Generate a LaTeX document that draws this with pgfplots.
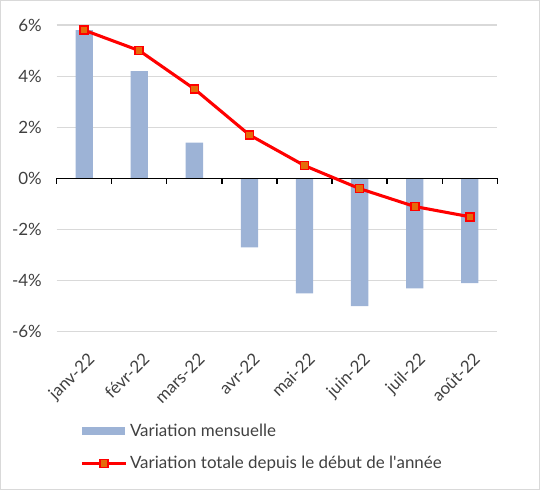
\documentclass[border=0pt]{standalone}
\usepackage{pgfplots}
\pgfplotsset{compat=1.18}
\usepackage{fontspec}
\setmainfont{Lato}
\definecolor{barblue}{HTML}{9DB3D6}
\definecolor{txtgray}{HTML}{404040}
\definecolor{gridgray}{HTML}{D9D9D9}
\definecolor{mkorange}{HTML}{E46C0A}
\pgfplotsset{
  barlegend/.style={legend image code/.code={\fill[barblue] (0pt,-3pt) rectangle (32.5pt,3pt);}},
  linelegend/.style={legend image code/.code={\draw[mark repeat=2, mark phase=2, ##1] plot coordinates {(0pt,0pt) (16.5pt,0pt) (33pt,0pt)};}},
}
\begin{document}
\begin{tikzpicture}[font=\fontsize{12.7}{14.5}\selectfont]
\begin{axis}[
  at={(42.5pt,118.7pt)}, anchor=south west,
  scale only axis, width=330.5pt, height=230pt,
  xmin=0.5, xmax=8.5, ymin=-6, ymax=6,
  axis line style={draw=none},
  tick style={draw=none},
  xtick={1,...,8},
  xticklabels={janv-22,févr-22,mars-22,avr-22,mai-22,juin-22,juil-22,août-22},
  ytick={-6,-4,...,6},
  yticklabels={-6\%,-4\%,-2\%,0\%,2\%,4\%,6\%},
  ymajorgrids, grid style={gridgray, line width=1pt},
  xticklabel style={xshift=2pt, yshift=-15pt, rotate=45, anchor=north east, inner sep=0pt, text=txtgray},
  yticklabel style={anchor=east, inner sep=0pt, xshift=-11pt, text=txtgray},
  clip=false,
  legend cell align=left,
  legend style={at={(0.053,-0.291)}, anchor=north west, draw=none, fill=none,
    row sep=9.5pt, text=txtgray, inner sep=0pt,
    nodes={inner sep=2pt}},
]
\addplot[ybar, bar width=13pt, fill=barblue, draw=none, barlegend]
  coordinates {(1,5.8) (2,4.2) (3,1.4) (4,-2.7) (5,-4.5) (6,-5.0) (7,-4.3) (8,-4.1)};
\addlegendentry{Variation mensuelle}
\draw[black, line width=1.2pt] (axis cs:0.5,0) -- (axis cs:8.5,0);
\pgfplotsinvokeforeach{0.5,1.5,2.5,3.5,4.5,5.5,6.5,7.5,8.5}{
  \draw[black, line width=1pt] (axis cs:#1,0) -- ++(0pt,-4pt);
}
\addplot[red, line width=2.3pt, mark=square*, mark size=3pt,
  mark options={fill=mkorange, draw=red, line width=1.2pt}, linelegend]
  coordinates {(1,5.8) (2,5.0) (3,3.5) (4,1.7) (5,0.5) (6,-0.4) (7,-1.1) (8,-1.5)};
\addlegendentry{Variation totale depuis le début de l\textquotesingle année}
\end{axis}
\pgfresetboundingbox
\draw[gridgray, line width=1.1pt] (0.55pt,0.55pt) rectangle (404.45pt,366.95pt);
\path[use as bounding box] (0pt,0pt) rectangle (405pt,367.5pt);
\end{tikzpicture}
\end{document}
